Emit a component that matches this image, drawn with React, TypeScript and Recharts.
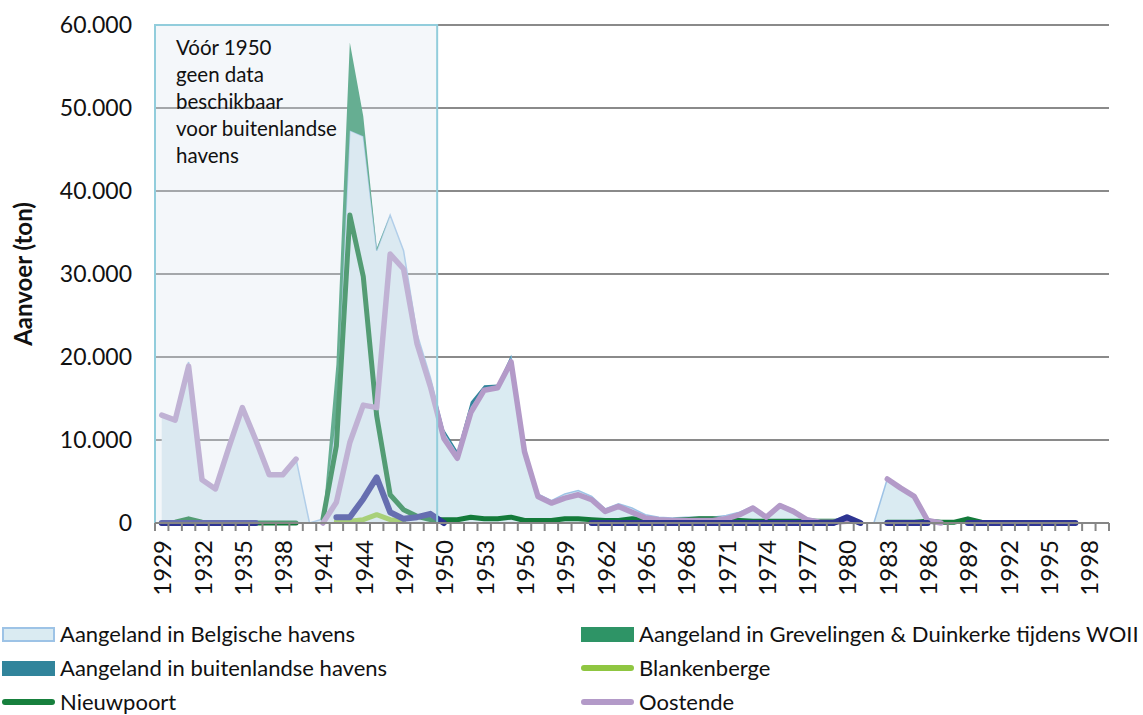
import React from 'react';
import { ComposedChart, Area, Line, XAxis, YAxis, CartesianGrid, ReferenceArea, Label } from 'recharts';

// jaren 1929 - 1999
const years = Array.from({ length: 71 }, (_, i) => 1929 + i);

// aanvoer in ton, per jaar
const belgisch = [
  13000, 12500, 19400, 5300, 4100, 9100, 13900, 10000, 5800, 5800, 7700, 0, 500,
  12700, 47300, 46600, 32800, 37100, 32800, 22800, 17500, 11000, 8400, 14000, 16200,
  16500, 20000, 8900, 3500, 2700, 3500, 3900, 3200, 1700, 2300, 1800, 1000, 700, 600,
  700, 700, 700, 900, 1300, 2000, 900, 2300, 1600, 600, 300, 300, 900, 0, 0, 5300,
  4300, 3300, 500, 100, 100, 500, 0, 0, 0, 0, 0, 0, 0, 0, 0, 0,
];
const grevelingen = [
  0, 0, 0, 0, 0, 0, 0, 0, 0, 0, 0, 0, 0, 6400, 10600, 2400, 300, 0, 0, 0, 0, 0, 0, 0,
  0, 0, 0, 0, 0, 0, 0, 0, 0, 0, 0, 0, 0, 0, 0, 0, 0, 0, 0, 0, 0, 0, 0, 0, 0, 0, 0, 0,
  0, 0, 0, 0, 0, 0, 0, 0, 0, 0, 0, 0, 0, 0, 0, 0, 0, 0, 0,
];
const buitenlands = [
  0, 0, 0, 0, 0, 0, 0, 0, 0, 0, 0, 0, 0, 0, 0, 0, 0, 0, 0, 0, 0, 300, 300, 600, 400,
  200, 200, 100, 0, 0, 0, 0, 0, 0, 0, 0, 0, 0, 0, 0, 0, 0, 0, 0, 0, 0, 0, 0, 0, 0, 0,
  0, 0, 0, 0, 0, 0, 0, 0, 0, 0, 0, 0, 0, 0, 0, 0, 0, 0, 0, 0,
];
const blankenberge = [
  null, null, null, null, null, null, null, null, null, null, null, null, null,
  200, 200, 400, 1000, 400, 200, null, null, null, null, null, null, null, null, null,
  null, null, null, null, null, null, null, null, null, null, null, null, null, null,
  null, null, null, null, null, null, null, null, null, null, null, null, null, null,
  null, null, null, null, null, null, null, null, null, null, null, null, null, null, null,
];
const nieuwpoort = [
  0, 100, 500, 100, 0, 0, 0, 0, 0, 0, 0, null, 500, 9300, 37100, 29700, 12900, 3400,
  1600, 800, 400, 400, 400, 700, 500, 500, 700, 300, 300, 300, 500, 500, 400, 300, 300,
  500, 400, 300, 300, 400, 500, 500, 400, 300, 200, 200, 200, 200, 200, 200, 200, 200,
  null, null, 100, 100, 100, 200, 100, 100, 500, 100, null, null, null, null, null,
  null, null, null, null,
];
const oostende = [
  13000, 12400, 18900, 5200, 4100, 9100, 13900, 10000, 5800, 5800, 7700, null, 0,
  2500, 9700, 14200, 13900, 32400, 30600, 21600, 16400, 10200, 7800, 13300, 16000,
  16300, 19400, 8600, 3200, 2400, 3000, 3400, 2800, 1400, 2000, 1300, 600, 400, 300,
  300, 300, 300, 500, 1000, 1800, 700, 2100, 1400, 400, 100, 100, 200, null, null, 5300,
  4200, 3200, 300, 0, null, null, null, null, null, null, null, null, null, null, null, null,
];
const zeebrugge = [
  0, 0, 0, 0, 0, 0, 0, 0, null, null, null, null, null, 700, 700, 2900, 5500, 1300,
  500, 700, 1100, 0, null, null, null, null, null, null, null, null, null, null, 0, 0,
  0, 0, 0, 0, 0, 0, 0, 0, 0, 0, 0, 0, 0, 0, 0, 0, 0, 700, 0, null, 0, 0, 0, 0, null,
  null, 0, 0, 0, 0, 0, 0, 0, 0, 0, null, null,
];

const yTicks = [0, 10000, 20000, 30000, 40000, 50000, 60000];
const boxNote = ['Vóór 1950', 'geen data', 'beschikbaar', 'voor buitenlandse', 'havens'];

const data = years.map((year, i) => ({
  year,
  belgisch: belgisch[i],
  grevelingen: grevelingen[i],
  buitenlands: buitenlands[i],
  blankenberge: blankenberge[i],
  nieuwpoort: nieuwpoort[i],
  oostende: oostende[i],
  zeebrugge: zeebrugge[i],
}));

// tick marks between the years, like the original
const boundaries = Array.from({ length: 72 }, (_, i) => 1928.5 + i);

const W = 1143;
const MARGIN = { top: 25, right: 34, left: 0, bottom: 0 };
const Y_WIDTH = 155;
const BAND = (W - Y_WIDTH - MARGIN.right) / years.length;
const FONT = 'Lato, "Open Sans", sans-serif';

const fmt = (v: number) => String(v).replace(/\B(?=(\d{3})+(?!\d))/g, '.');

const YearTick = (props: any) => {
  const { x, y, payload } = props;
  const year = payload.value + 0.5;
  if (year > 1998 || (year - 1929) % 3 !== 0) return <g />;
  const cx = x + BAND / 2;
  const ty = y + 7;
  return (
    <text
      x={cx}
      y={ty}
      transform={`rotate(-90 ${cx} ${ty})`}
      textAnchor="end"
      dominantBaseline="central"
      fontSize={24}
      fontFamily={FONT}
      fill="#111"
    >
      {year}
    </text>
  );
};

const YTitle = (props: any) => {
  const { viewBox } = props;
  const x = viewBox.x + 22;
  const y = viewBox.y + viewBox.height / 2;
  return (
    <text
      x={x}
      y={y}
      transform={`rotate(-90 ${x} ${y})`}
      textAnchor="middle"
      dominantBaseline="central"
      fontSize={24}
      fontWeight="bold"
      fontFamily={FONT}
      fill="#111"
    >
      Aanvoer (ton)
    </text>
  );
};

const BoxText = (props: any) => {
  const { viewBox } = props;
  const x = viewBox.x + 21;
  const y = viewBox.y + 30;
  return (
    <text x={x} y={y} fontSize={20.5} fontFamily={FONT} fill="#111">
      {boxNote.map((t, i) => (
        <tspan key={i} x={x} dy={i === 0 ? 0 : 27}>
          {t}
        </tspan>
      ))}
    </text>
  );
};

const legendItems = [
  { name: 'Aangeland in Belgische havens', kind: 'area', color: '#daebf2', border: '#9dc3e6' },
  { name: 'Aangeland in Grevelingen & Duinkerke tijdens WOII', kind: 'area', color: '#2e9466' },
  { name: 'Aangeland in buitenlandse havens', kind: 'area', color: '#31849b' },
  { name: 'Blankenberge', kind: 'line', color: '#8fc641' },
  { name: 'Nieuwpoort', kind: 'line', color: '#17803d' },
  { name: 'Oostende', kind: 'line', color: '#b39ac8' },
];

const LegendBox = () => (
  <div
    style={{
      position: 'absolute',
      top: 617,
      left: 0,
      width: W,
      display: 'grid',
      gridTemplateColumns: '579px 564px',
      gridAutoRows: '34px',
      fontFamily: FONT,
      fontSize: 22,
      lineHeight: '24px',
      color: '#111',
    }}
  >
    {legendItems.map((it) => (
      <div key={it.name} style={{ display: 'flex', alignItems: 'center', paddingLeft: 2 }}>
        {it.kind === 'area' ? (
          <span
            style={{
              width: 53,
              height: 15,
              flex: 'none',
              boxSizing: 'border-box',
              background: it.color,
              border: it.border ? `2px solid ${it.border}` : 'none',
              display: 'inline-block',
            }}
          />
        ) : (
          <span
            style={{ width: 53, height: 6, flex: 'none', borderRadius: 3, background: it.color, display: 'inline-block' }}
          />
        )}
        <span style={{ marginLeft: 5, whiteSpace: 'nowrap' }}>{it.name}</span>
      </div>
    ))}
  </div>
);

export default function App() {
  return (
    <div
      style={{
        position: 'absolute',
        left: 0,
        top: 0,
        width: W,
        height: 715,
        overflow: 'hidden',
        background: '#fff',
      }}
    >
      <ComposedChart width={W} height={600} data={data} margin={MARGIN}>
        <CartesianGrid vertical={false} stroke="#8a8a8a" strokeWidth={2} />
        <XAxis
          dataKey="year"
          type="number"
          domain={[1928.5, 1999.5]}
          ticks={boundaries}
          interval={0}
          height={77}
          tickSize={8}
          tick={YearTick}
          tickLine={{ stroke: '#868686', strokeWidth: 2 }}
          axisLine={{ stroke: '#868686', strokeWidth: 2 }}
        />
        <YAxis
          width={Y_WIDTH}
          domain={[0, 60000]}
          ticks={yTicks}
          tickFormatter={fmt}
          axisLine={false}
          tickLine={false}
          tickSize={0}
          tickMargin={23}
          tick={{ fontSize: 23, fontFamily: FONT, fill: '#111' }}
        >
          <Label content={YTitle} />
        </YAxis>

        <Area
          type="linear"
          dataKey="belgisch"
          stackId="a"
          fill="#daebf2"
          fillOpacity={1}
          stroke="#9dc3e6"
          strokeWidth={1.5}
          isAnimationActive={false}
        />
        <Area
          type="linear"
          dataKey="grevelingen"
          stackId="a"
          fill="#2e9466"
          fillOpacity={1}
          stroke="none"
          isAnimationActive={false}
        />
        <Area
          type="linear"
          dataKey="buitenlands"
          stackId="a"
          fill="#31849b"
          fillOpacity={1}
          stroke="none"
          isAnimationActive={false}
        />

        <Line type="linear" dataKey="blankenberge" stroke="#8fc641" strokeWidth={5} dot={false} strokeLinecap="round" strokeLinejoin="round" isAnimationActive={false} />
        <Line type="linear" dataKey="nieuwpoort" stroke="#137a3a" strokeWidth={5} dot={false} strokeLinecap="round" strokeLinejoin="round" isAnimationActive={false} />
        <Line type="linear" dataKey="oostende" stroke="#b39ac8" strokeWidth={5.5} dot={false} strokeLinecap="round" strokeLinejoin="round" isAnimationActive={false} />
        <Line type="linear" dataKey="zeebrugge" stroke="#2e3592" strokeWidth={6} dot={false} strokeLinecap="round" strokeLinejoin="round" isAnimationActive={false} />

        <ReferenceArea
          x1={1928.5}
          x2={1949.5}
          y1={0}
          y2={60000}
          fill="#dce7f0"
          fillOpacity={0.32}
          stroke="#92cddc"
          strokeWidth={2}
          zIndex={450}
          label={BoxText}
        />
      </ComposedChart>
      <LegendBox />
    </div>
  );
}
